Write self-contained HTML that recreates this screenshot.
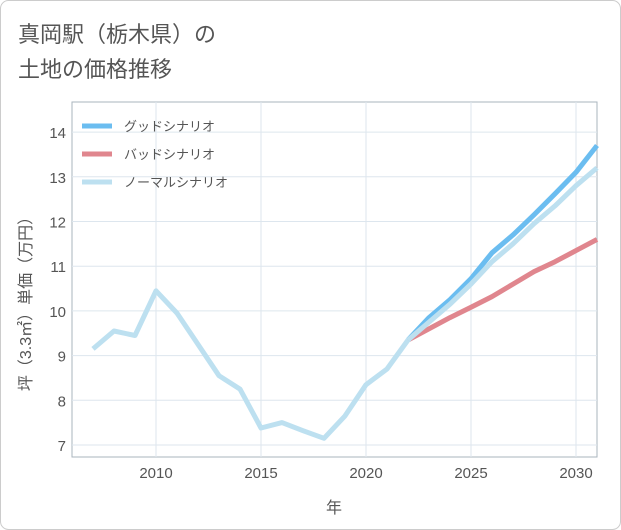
<!DOCTYPE html>
<html><head><meta charset="utf-8">
<style>
body{margin:0;background:#fff;}
svg{display:block;font-family:"Liberation Sans","Noto Sans CJK JP",sans-serif;}
</style></head>
<body>
<svg id="chart" width="621" height="530" viewBox="0 0 621 530" xmlns="http://www.w3.org/2000/svg">
<rect x="0.5" y="0.5" width="620" height="529" rx="8" fill="#fff" stroke="#ccc"/>
<text x="18" y="42" font-size="22" fill="#555">真岡駅（栃木県）の</text>
<text x="18" y="77" font-size="22" fill="#555">土地の価格推移</text>
<rect x="72" y="102" width="525" height="355" fill="#fff" stroke="#aab4be"/>
<g id="grid"></g>
<g id="lines"></g>
<g id="axes"></g>
<text x="334" y="513" font-size="16" fill="#555" text-anchor="middle">年</text>
<text transform="translate(31,300) rotate(-90)" font-size="16" fill="#555" text-anchor="middle">坪（3.3㎡）単価（万円）</text>
<g>
<line x1="82" y1="126" x2="112" y2="126" stroke="#6bbdf0" stroke-width="5"/>
<text x="124" y="131" font-size="13" fill="#555">グッドシナリオ</text>
<line x1="82" y1="154" x2="112" y2="154" stroke="#e0868e" stroke-width="5"/>
<text x="124" y="159" font-size="13" fill="#555">バッドシナリオ</text>
<line x1="82" y1="182" x2="112" y2="182" stroke="#bde0f0" stroke-width="5"/>
<text x="124" y="187" font-size="13" fill="#555">ノーマルシナリオ</text>
</g>
</svg>
<script>
const histYears=[2007,2008,2009,2010,2011,2012,2013,2014,2015,2016,2017,2018,2019,2020,2021,2022];
const histValues=[9.15,9.55,9.45,10.45,9.95,9.25,8.55,8.25,7.38,7.5,7.32,7.15,7.65,8.35,8.7,9.35];
const futYears=[2022,2023,2024,2025,2026,2027,2028,2029,2030,2031];
const goodValues=[9.35,9.85,10.25,10.72,11.3,11.7,12.15,12.62,13.1,13.7];
const badValues=[9.35,9.6,9.85,10.08,10.32,10.6,10.88,11.1,11.35,11.6];
const normalValues=[9.35,9.75,10.15,10.6,11.1,11.5,11.95,12.35,12.8,13.2];
const xTicks=[2010,2015,2020,2025,2030];
const yTicks=[7,8,9,10,11,12,13,14];
const NS="http://www.w3.org/2000/svg";
const x=v=>72+(v-2006)*21;
const y=v=>445-(v-7)*44.7;
function mk(tag,attrs,parent){const e=document.createElementNS(NS,tag);for(const k in attrs)e.setAttribute(k,attrs[k]);document.getElementById(parent).appendChild(e);return e;}
xTicks.forEach(t=>{
 const g=mk('line',{x1:x(t),x2:x(t),y1:102,y2:457,stroke:'#dde6ee'},'grid');
 
 
 const l=mk('text',{x:x(t),y:478,'font-size':15,fill:'#555','text-anchor':'middle'},'axes');
 l.textContent=t;
 
 
});
yTicks.forEach(t=>{
 const g=mk('line',{x1:72,x2:597,y1:y(t),y2:y(t),stroke:'#dde6ee'},'grid');
 
 
 const l=mk('text',{x:66,y:y(t)+6,'font-size':15,fill:'#555','text-anchor':'end'},'axes');
 l.textContent=t;
 
 
});
function path(xs,vs,color,name){
 const d=xs.map((t,i)=>(i?'L':'M')+x(t).toFixed(1)+','+y(vs[i]).toFixed(1)).join(' ');
 const p=mk('path',{d:d,fill:'none',stroke:color,'stroke-width':5,'stroke-linejoin':'round','stroke-linecap':'butt'},'lines');
 
 
}
path(futYears,badValues,'#e0868e','bad-scenario-line');
path(futYears,goodValues,'#6bbdf0','good-scenario-line');
path(futYears,normalValues,'#bde0f0','normal-scenario-line');
path(histYears,histValues,'#bde0f0','historical-line');
</script>
</body></html>
